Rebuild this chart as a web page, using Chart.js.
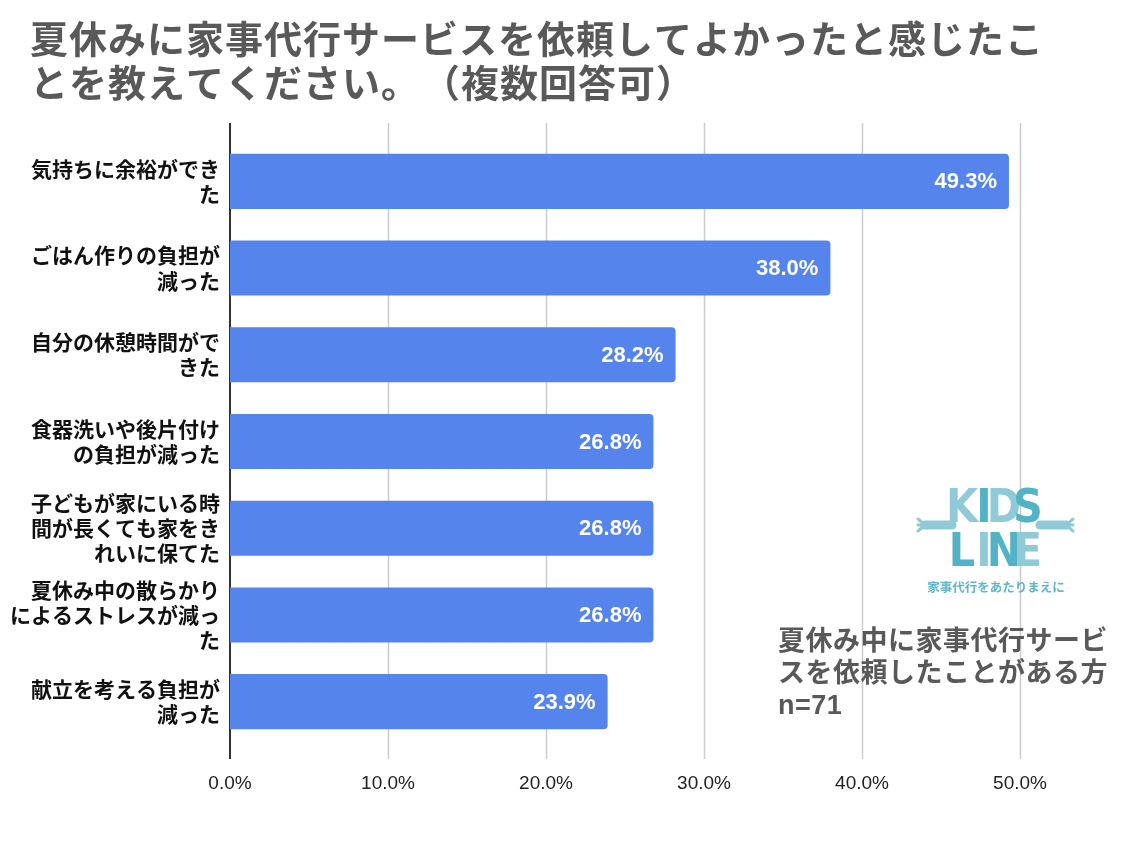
<!DOCTYPE html>
<html>
<head>
<meta charset="utf-8">
<script src="https://cdn.jsdelivr.net/npm/chart.js@4.4.1/dist/chart.umd.min.js"></script>
<style>
  html, body { margin: 0; padding: 0; background: #ffffff; }
  #wrap { width: 1130px; height: 852px; position: relative; }
</style>
</head>
<body>
<div id="wrap"><canvas id="c" width="1130" height="852"></canvas></div>
<script>
const titleLines = ['夏休みに家事代行サービスを依頼してよかったと感じたこ', ['とを教えてください。', '（複数回答可）']];
const categories = [
  ['気持ちに余裕ができ', 'た'],
  ['ごはん作りの負担が', '減った'],
  ['自分の休憩時間がで', 'きた'],
  ['食器洗いや後片付け', 'の負担が減った'],
  ['子どもが家にいる時', '間が長くても家をき', 'れいに保てた'],
  ['夏休み中の散らかり', 'によるストレスが減っ', 'た'],
  ['献立を考える負担が', '減った']
];
const values = [49.3, 38.0, 28.2, 26.8, 26.8, 26.8, 23.9];
const xTicks = [0, 10, 20, 30, 40, 50];
const noteLines = ['夏休み中に家事代行サービ', 'スを依頼したことがある方', 'n=71'];
const logoTop = ['K', 'I', 'D', 'S'];
const logoBottom = ['L', 'I', 'N', 'E'];
const logoTagline = '家事代行をあたりまえに';

const FONT = "'Liberation Sans', 'Noto Sans CJK JP', sans-serif";
const CJK = "'Noto Sans CJK JP', 'Liberation Sans', sans-serif";

const decor = {
  id: 'decor',
  beforeDatasetsDraw(chart) {
    const ctx = chart.ctx;
    const xs = chart.scales.x;
    const top = 123, bottom = 759;
    ctx.save();
    ctx.strokeStyle = '#cccccc';
    ctx.lineWidth = 1.5;
    xTicks.forEach(v => {
      if (v === 0) return;
      const px = Math.round(xs.getPixelForValue(v)) + 0.5;
      ctx.beginPath();
      ctx.moveTo(px, top);
      ctx.lineTo(px, bottom);
      ctx.stroke();
    });
    ctx.strokeStyle = '#333333';
    ctx.lineWidth = 2;
    const p0 = xs.getPixelForValue(0);
    ctx.beginPath();
    ctx.moveTo(p0, top);
    ctx.lineTo(p0, bottom);
    ctx.stroke();
    ctx.restore();
  },
  afterDatasetsDraw(chart) {
    const ctx = chart.ctx;
    const meta = chart.getDatasetMeta(0);
    ctx.save();
    ctx.fillStyle = '#ffffff';
    ctx.font = 'bold 22px ' + FONT;
    ctx.textAlign = 'right';
    ctx.textBaseline = 'middle';
    meta.data.forEach((bar, i) => {
      ctx.fillText(values[i].toFixed(1) + '%', bar.x - 12, bar.y + 1);
    });
    ctx.restore();
  },
  afterDraw(chart) {
    const ctx = chart.ctx;
    ctx.save();
    // Title
    ctx.fillStyle = '#595959';
    ctx.font = 'bold 38px ' + CJK;
    ctx.textAlign = 'left';
    ctx.textBaseline = 'middle';
    try { ctx.letterSpacing = '1px'; } catch (e) {}
    ctx.fillText(titleLines[0], 30, 39);
    const w1 = ctx.measureText(titleLines[1][0]).width;
    ctx.fillText(titleLines[1][0], 30, 83);
    ctx.fillText(titleLines[1][1], 30 + Math.max(w1, 39 * 10) + 2, 83);
    try { ctx.letterSpacing = '0px'; } catch (e) {}

    // Note
    ctx.font = 'bold 27px ' + FONT;
    ctx.fillStyle = '#595959';
    try { ctx.letterSpacing = '0.5px'; } catch (e) {}
    noteLines.forEach((t, i) => ctx.fillText(t, 778, 640 + i * 32 + 3));
    try { ctx.letterSpacing = '0px'; } catch (e) {}

    // Logo
    const light = '#8fcad6', dark = '#52b2c6';
    ctx.strokeStyle = light;
    ctx.lineCap = 'round';
    ctx.lineWidth = 9;
    ctx.beginPath(); ctx.moveTo(925, 525); ctx.lineTo(952, 525); ctx.stroke();
    ctx.beginPath(); ctx.moveTo(1040, 525); ctx.lineTo(1066, 525); ctx.stroke();
    ctx.lineWidth = 3;
    [-6, 0, 6].forEach(d => {
      ctx.beginPath(); ctx.moveTo(925, 525); ctx.lineTo(918, 525 + d); ctx.stroke();
      ctx.beginPath(); ctx.moveTo(1066, 525); ctx.lineTo(1073, 525 + d); ctx.stroke();
    });
    ctx.textAlign = 'center';
    ctx.textBaseline = 'alphabetic';
    ctx.font = 'bold 46px "DejaVu Sans Condensed", ' + FONT;
    const topX = [962, 984, 1004, 1028];
    const botX = [962, 984, 1004, 1028];
    logoTop.forEach((ch, i) => {
      ctx.fillStyle = i % 2 === 0 ? light : dark;
      ctx.fillText(ch, topX[i], 522);
    });
    logoBottom.forEach((ch, i) => {
      ctx.fillStyle = i % 2 === 0 ? dark : light;
      ctx.fillText(ch, botX[i], 566);
    });
    ctx.fillStyle = '#5fb8ca';
    ctx.font = 'bold 12.5px ' + CJK;
    ctx.textBaseline = 'middle';
    ctx.fillText(logoTagline, 996, 587);
    ctx.restore();
  }
};

new Chart(document.getElementById('c'), {
  type: 'bar',
  data: {
    labels: categories,
    datasets: [{
      data: values,
      backgroundColor: '#5484ec',
      borderWidth: 0,
      borderRadius: 4,
      borderSkipped: 'start',
      categoryPercentage: 1.0,
      barPercentage: 0.635
    }]
  },
  options: {
    indexAxis: 'y',
    responsive: false,
    animation: false,
    events: [],
    layout: { padding: { left: 0, right: 110, top: 138, bottom: 0 } },
    plugins: {
      legend: { display: false },
      tooltip: { enabled: false },
      title: { display: false }
    },
    scales: {
      x: {
        type: 'linear',
        min: 0,
        max: 50,
        afterBuildTicks(scale) { scale.ticks = xTicks.map(v => ({ value: v })); },
        afterFit(scale) { scale.height = 107; },
        grid: { display: false, drawTicks: false },
        border: { display: false },
        ticks: {
          padding: 27,
          color: '#222222',
          font: { family: FONT, size: 19 },
          maxRotation: 0,
          callback: v => Number(v).toFixed(1) + '%'
        }
      },
      y: {
        afterFit(scale) { scale.width = 230; },
        grid: { display: false, drawTicks: false },
        border: { display: false },
        ticks: {
          padding: 10,
          color: '#111111',
          font: { family: CJK, size: 21, weight: 'bold', lineHeight: 1.2 },
          autoSkip: false
        }
      }
    }
  },
  plugins: [decor]
});
</script>
</body>
</html>
